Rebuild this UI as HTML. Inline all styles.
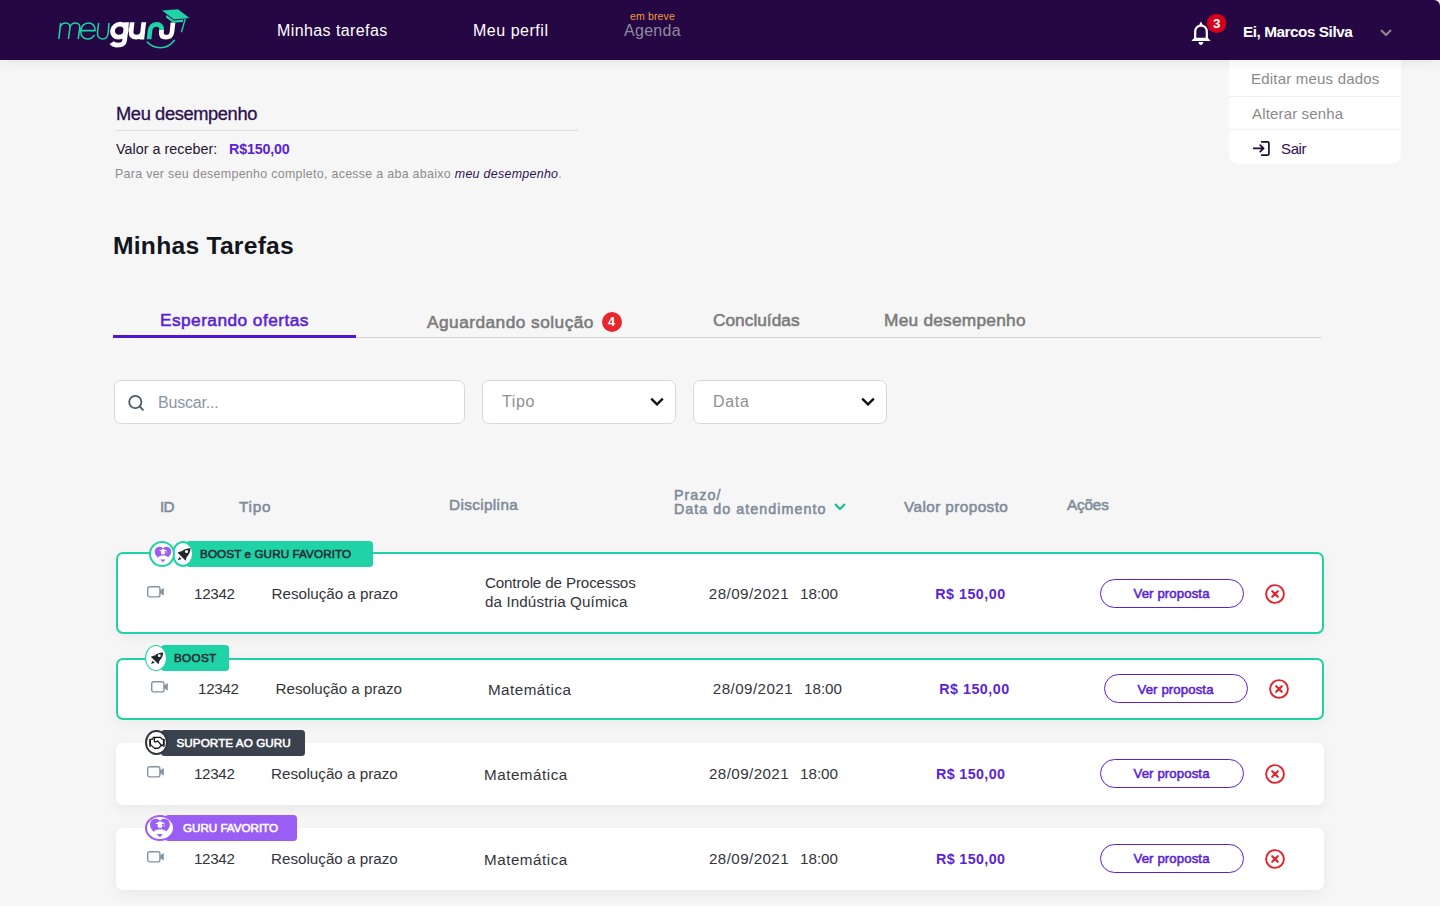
<!DOCTYPE html>
<html lang="pt-BR"><head><meta charset="utf-8"><title>Minhas Tarefas</title>
<style>
*{margin:0;padding:0;box-sizing:border-box}
html,body{width:1440px;height:906px;overflow:hidden}
body{background:#f6f6f6;font-family:"Liberation Sans",sans-serif;position:relative}
.a{position:absolute;white-space:nowrap;line-height:1}
.ic{position:absolute;overflow:visible}
.box{position:absolute}
.btn{position:absolute;width:144px;height:29px;border:1.5px solid #5b1fd8;border-radius:15px;background:#fff}
</style></head><body>

<div class="box" style="left:0;top:0;width:1440px;height:60px;background:#250744;border-top-right-radius:6px;box-shadow:0 3px 12px rgba(0,0,0,0.07);z-index:1"></div>
<svg class="ic" style="left:0;top:0;z-index:2" width="200" height="60" viewBox="0 0 200 60">
<g fill="none" stroke="#1fd3a6" stroke-width="1.55" stroke-linecap="round" stroke-linejoin="round">
<path d="M58.9 38.4L60.6 23.6"/>
<path d="M60.3 26.8C61.3 24.3 63.4 23 65.7 23C68.5 23 70.3 24.9 70 27.6L68.5 38.4"/>
<path d="M70.1 26.8C71.1 24.3 73.2 23 75.5 23C78.3 23 80.1 24.9 79.8 27.6L78.3 38.4"/>
<path d="M81 30.6L95.1 30.6C95.5 26.2 92.7 23 88.6 23C84.1 23 80.7 26.6 80.7 31.3C80.7 35.9 83.6 39 87.7 39C90.5 39 92.7 37.6 94.1 35.4"/>
<path d="M98.6 23.5L97.5 32C96.9 36.4 99.2 39 102.6 39C106 39 107.9 36.4 108.3 32L108.9 23.5"/>
</g>
<g transform="matrix(1 0 -0.11 1 4.29 0)">
<g fill="none" stroke="#ffffff" stroke-width="4.7">
<ellipse cx="118.5" cy="30.6" rx="6.9" ry="6.5"/>
<path d="M124.8 22.2L124.8 40.5C124.8 44 122.1 45.1 118.3 45.1C115.5 45.1 113.3 44.3 112.1 42.7"/>
<path d="M130.3 22.2L130.3 31.6C130.3 35.3 132.6 37.2 136.1 37.2C139.6 37.2 141.9 35.3 141.9 31.6M141.9 22.2L141.9 39.4"/>
<path d="M160.6 29.2L160.6 32C160.6 35.5 162.5 37.2 165.9 37.2C169.3 37.2 171.2 35.5 171.2 32L171.2 22.5"/>
</g>
<path d="M149.1 39.2L149.1 30.6C149.1 26.6 151.6 24.4 154.9 24.4C158.2 24.4 160.6 26.6 160.6 30L160.6 29.2" fill="none" stroke="#1fd3a6" stroke-width="4.7"/>
</g>
<path d="M147.2 42C151 46.2 155.3 47.7 160.3 47.7C165.8 47.7 170.8 45.3 174.4 40.3" fill="none" stroke="#1fd3a6" stroke-width="1.5" stroke-linecap="round"/>
<path d="M162 10.4L178 9.2L189.5 17.9L174.1 19.5Z" fill="#1fd3a6"/>
<path d="M166.5 15L165.9 17.5L173.2 22.8L182.9 22L183.1 19.4L173.9 20.4Z" fill="#1fd3a6"/>
<path d="M185.3 18.6L181.4 32.2" stroke="#1fd3a6" stroke-width="1.4" fill="none"/>
</svg>
<svg class="ic" style="left:1180px;top:0;z-index:2" width="60" height="60" viewBox="1180 0 60 60">
<path d="M1195.2 39.5L1195.2 31.5C1195.2 27.9 1197.7 25.6 1201 25.6C1204.3 25.6 1206.8 27.9 1206.8 31.5L1206.8 39.5" fill="none" stroke="#fff" stroke-width="2.2"/>
<path d="M1191.4 40.9L1194.2 37.8L1207.8 37.8L1210.6 40.9Z" fill="#fff"/>
<path d="M1199 25.6L1200.3 22.3Q1200.9 21.5 1201.5 22.3L1202.8 25.6Z" fill="#fff"/>
<path d="M1198.5 42L1203.3 42C1203.3 43.7 1202.2 44.9 1200.9 44.9C1199.6 44.9 1198.5 43.7 1198.5 42Z" fill="#fff"/>
<circle cx="1216.6" cy="23.4" r="9.7" fill="#d5001b"/>
<path d="M1386 0" />
</svg>
<div class="a" style="left:1212.9px;top:17.2px;font-size:13.4px;font-weight:700;color:#fff;z-index:3">3</div>
<svg class="ic" style="left:1376px;top:25px;z-index:2" width="20" height="14" viewBox="0 0 20 14"><path d="M5 5L10 10L15 5" fill="none" stroke="#8d8d8d" stroke-width="2"/></svg>
<div class="box" style="left:1229px;top:60px;width:172px;height:104px;background:#fff;border-radius:0 0 9px 9px;z-index:0"></div>
<div class="box" style="left:1229px;top:96px;width:172px;height:1px;background:#efefef"></div>
<div class="box" style="left:1229px;top:129px;width:172px;height:1px;background:#efefef"></div>
<svg class="ic" style="left:1250px;top:139px" width="24" height="20" viewBox="1250 139 24 20"><path d="M1253.7 148.4L1263.6 148.4M1260.2 145.1L1263.6 148.4L1260.2 151.7" fill="none" stroke="#1c0e33" stroke-width="1.7" stroke-linecap="round" stroke-linejoin="round"/><path d="M1261.7 141.9L1267.7 141.9Q1268.9 141.9 1268.9 143.1L1268.9 153.9Q1268.9 155.1 1267.7 155.1L1261.7 155.1" fill="none" stroke="#1c0e33" stroke-width="1.7" stroke-linecap="round"/></svg>
<div class="box" style="left:115px;top:130px;width:463px;height:1px;background:#dcdcdc"></div>
<div class="box" style="left:113px;top:337px;width:1208px;height:1.3px;background:#d3d3d3"></div>
<div class="box" style="left:113px;top:335px;width:243px;height:3px;background:#4f15d6"></div>
<div class="box" style="left:602px;top:312px;width:20px;height:20px;border-radius:10px;background:#e8262e"></div>
<div class="a" style="left:607.9px;top:315.9px;font-size:12.6px;font-weight:700;color:#fff">4</div>
<div class="box" style="left:114px;top:380px;width:351px;height:44px;background:#fff;border:1px solid #d3d9e0;border-radius:7px"></div>
<div class="box" style="left:482px;top:380px;width:194px;height:44px;background:#fff;border:1px solid #d3d9e0;border-radius:7px"></div>
<div class="box" style="left:693px;top:380px;width:194px;height:44px;background:#fff;border:1px solid #d3d9e0;border-radius:7px"></div>
<svg class="ic" style="left:124px;top:390px" width="24" height="24" viewBox="124 390 24 24"><circle cx="135.3" cy="402" r="6.1" fill="none" stroke="#4b5b69" stroke-width="1.8"/><path d="M139.8 406.5L143 409.8" stroke="#4b5b69" stroke-width="1.8" stroke-linecap="round"/></svg>
<svg class="ic" style="left:649px;top:394px" width="16" height="16" viewBox="0 0 16 16"><path d="M2.2 4.6L8 10.4L13.8 4.6" fill="none" stroke="#111" stroke-width="2.3"/></svg>
<svg class="ic" style="left:860px;top:394px" width="16" height="16" viewBox="0 0 16 16"><path d="M2.2 4.6L8 10.4L13.8 4.6" fill="none" stroke="#111" stroke-width="2.3"/></svg>
<svg class="ic" style="left:832px;top:500px" width="16" height="14" viewBox="0 0 16 14"><path d="M3 4L8 9L13 4" fill="none" stroke="#1cb98f" stroke-width="2.2"/></svg>
<div class="box" style="left:116px;top:552px;width:1208px;height:82px;background:#fff;border:2px solid #1fd3a6;border-radius:7px;box-shadow:0 4px 14px rgba(0,0,0,0.05)"></div>
<svg class="ic" style="left:146.8px;top:585.7px" width="18" height="13" viewBox="0 0 18 13"><rect x="0.7" y="0.7" width="12.2" height="10.2" rx="2" fill="none" stroke="#8393a1" stroke-width="1.4"/><path d="M13 4.5L16.8 2V9.6L13 7.2Z" fill="#8393a1"/></svg>
<div class="btn" style="left:1100px;top:579.3px"></div>
<svg class="ic" style="left:1264px;top:582.6999999999999px" width="22" height="22" viewBox="0 0 22 22"><circle cx="11" cy="11" r="8.9" fill="none" stroke="#e3242d" stroke-width="1.9"/><path d="M8.2 8.2L13.8 13.8M13.8 8.2L8.2 13.8" stroke="#e3242d" stroke-width="2.1" stroke-linecap="round"/></svg>
<div class="box" style="left:116px;top:658px;width:1208px;height:62px;background:#fff;border:2px solid #1fd3a6;border-radius:7px;box-shadow:0 4px 14px rgba(0,0,0,0.05)"></div>
<svg class="ic" style="left:150.8px;top:680.7px" width="18" height="13" viewBox="0 0 18 13"><rect x="0.7" y="0.7" width="12.2" height="10.2" rx="2" fill="none" stroke="#8393a1" stroke-width="1.4"/><path d="M13 4.5L16.8 2V9.6L13 7.2Z" fill="#8393a1"/></svg>
<div class="btn" style="left:1104px;top:674.3px"></div>
<svg class="ic" style="left:1268px;top:677.6999999999999px" width="22" height="22" viewBox="0 0 22 22"><circle cx="11" cy="11" r="8.9" fill="none" stroke="#e3242d" stroke-width="1.9"/><path d="M8.2 8.2L13.8 13.8M13.8 8.2L8.2 13.8" stroke="#e3242d" stroke-width="2.1" stroke-linecap="round"/></svg>
<div class="box" style="left:116px;top:743px;width:1208px;height:62px;background:#fff;border-radius:7px;box-shadow:0 4px 14px rgba(0,0,0,0.06)"></div>
<svg class="ic" style="left:146.8px;top:765.8px" width="18" height="13" viewBox="0 0 18 13"><rect x="0.7" y="0.7" width="12.2" height="10.2" rx="2" fill="none" stroke="#8393a1" stroke-width="1.4"/><path d="M13 4.5L16.8 2V9.6L13 7.2Z" fill="#8393a1"/></svg>
<div class="btn" style="left:1100px;top:759.4px"></div>
<svg class="ic" style="left:1264px;top:762.8px" width="22" height="22" viewBox="0 0 22 22"><circle cx="11" cy="11" r="8.9" fill="none" stroke="#e3242d" stroke-width="1.9"/><path d="M8.2 8.2L13.8 13.8M13.8 8.2L8.2 13.8" stroke="#e3242d" stroke-width="2.1" stroke-linecap="round"/></svg>
<div class="box" style="left:116px;top:828px;width:1208px;height:62px;background:#fff;border-radius:7px;box-shadow:0 4px 14px rgba(0,0,0,0.06)"></div>
<svg class="ic" style="left:146.8px;top:850.8px" width="18" height="13" viewBox="0 0 18 13"><rect x="0.7" y="0.7" width="12.2" height="10.2" rx="2" fill="none" stroke="#8393a1" stroke-width="1.4"/><path d="M13 4.5L16.8 2V9.6L13 7.2Z" fill="#8393a1"/></svg>
<div class="btn" style="left:1100px;top:844.4px"></div>
<svg class="ic" style="left:1264px;top:847.8px" width="22" height="22" viewBox="0 0 22 22"><circle cx="11" cy="11" r="8.9" fill="none" stroke="#e3242d" stroke-width="1.9"/><path d="M8.2 8.2L13.8 13.8M13.8 8.2L8.2 13.8" stroke="#e3242d" stroke-width="2.1" stroke-linecap="round"/></svg>
<div class="box" style="left:186px;top:541px;width:187px;height:26px;background:#1fd3a6;border-radius:3.5px"></div>
<div class="box" style="left:172px;top:541px;width:22.3px;height:26px;border-radius:50%;background:#fff;border:2px solid #1fd3a6"></div>
<div class="box" style="left:149px;top:541px;width:26px;height:26px;border-radius:13px;background:#fff;border:2px solid #1fd3a6"></div>
<svg class="ic" style="left:150.7px;top:539.8px" width="24" height="24" viewBox="-12 -12 24 24"><g transform="scale(0.874)"><path d="M-0.35 -4.3C-1.4 -5.5 -2.9 -6 -4.5 -5.9C-7.5 -5.7 -9.5 -3.3 -9.5 -0.3C-9.5 2.1 -7.9 4.6 -6 6.4C-4 4.8 -2 4.1 0 4.1C2 4.1 4 4.6 5.9 5.9C7.7 4.3 9.45 2.1 9.45 -0.3C9.45 -3.3 7.5 -5.7 4.5 -5.9C2.9 -6 1.4 -5.5 0.35 -4.3Z" fill="#9b5ef5"/><path d="M-4.5 -1.5L0 -3.5L4.6 -1.6L0 0Z" fill="#fff"/><ellipse cx="0" cy="0.8" rx="2.4" ry="2.1" fill="#fff"/><path d="M3.9 -1.6L4.2 1.4" stroke="#fff" stroke-width="0.7" opacity="0.7"/><path d="M-3.3 8.5L2.8 8.5L-0.1 11.7Z" fill="#9b5ef5"/></g></svg>
<svg class="ic" style="left:173px;top:543.8px" width="20" height="20" viewBox="-10 -10 20 20"><g transform="scale(1.0)"><path d="M-5.5 -1.4L-0.9 -2.9C1.5 -5 4.4 -5.9 7.4 -5.8C7.5 -2.8 6.4 0.3 3.7 3L2.6 6.7Z" fill="#23272b"/><circle cx="3.5" cy="-2.5" r="1.55" fill="#fff"/><path d="M-5.2 6.2L-3.7 3L-1.3 5.1Z" fill="#23272b"/></g></svg>
<div class="box" style="left:161px;top:645.4px;width:67.5px;height:25.2px;background:#1fd3a6;border-radius:3.5px"></div>
<div class="box" style="left:145px;top:645px;width:22px;height:26px;border-radius:50%;background:#fff;border:1.9px solid #1fd3a6"></div>
<svg class="ic" style="left:146px;top:648.2px" width="20" height="20" viewBox="-10 -10 20 20"><g transform="scale(0.95)"><path d="M-5.5 -1.4L-0.9 -2.9C1.5 -5 4.4 -5.9 7.4 -5.8C7.5 -2.8 6.4 0.3 3.7 3L2.6 6.7Z" fill="#23272b"/><circle cx="3.5" cy="-2.5" r="1.55" fill="#fff"/><path d="M-5.2 6.2L-3.7 3L-1.3 5.1Z" fill="#23272b"/></g></svg>
<div class="box" style="left:161px;top:730.2px;width:144px;height:25.6px;background:#3a424d;border-radius:3.5px"></div>
<div class="box" style="left:145px;top:730.2px;width:22.5px;height:25.3px;border-radius:50%;background:#fff;border:2px solid #2f363f"></div>
<svg class="ic" style="left:147px;top:734px" width="20" height="18" viewBox="0 0 20 18"><rect x="2.2" y="5" width="1.8" height="7.7" fill="#111"/><rect x="15.9" y="5" width="1.8" height="7.7" fill="#111"/><g fill="none" stroke="#111" stroke-width="1.25" stroke-linejoin="round" stroke-linecap="round"><path d="M4 5.2L5.6 5.2L6.4 3.3L13.5 3.3L15.1 5.1L15.9 5.2"/><path d="M8 3.9C7.2 5 7.1 6.8 7.6 7.5C8.4 8.4 9.8 7.8 10.7 6.8L14 10.8L15.9 11.3"/><path d="M4 11.1L7.3 14.1C7.8 14.6 8.6 14.4 9 14C9.4 14.4 10.2 14.4 10.6 14C11 14.2 12 14 12.5 13.6L13.5 11.9L15.9 11.3"/></g><circle cx="3.1" cy="11.6" r="0.45" fill="#fff"/><circle cx="16.8" cy="11.6" r="0.45" fill="#fff"/></svg>
<div class="box" style="left:165px;top:815px;width:132px;height:25.8px;background:#9b5ef5;border-radius:3.5px"></div>
<div class="box" style="left:145px;top:814.8px;width:30px;height:26px;border-radius:50%;background:#fff;border:2.3px solid #9b5ef5"></div>
<svg class="ic" style="left:148.3px;top:813.4px" width="24" height="24" viewBox="-12 -12 24 24"><g transform="scale(1.05)"><path d="M-0.35 -4.3C-1.4 -5.5 -2.9 -6 -4.5 -5.9C-7.5 -5.7 -9.5 -3.3 -9.5 -0.3C-9.5 2.1 -7.9 4.6 -6 6.4C-4 4.8 -2 4.1 0 4.1C2 4.1 4 4.6 5.9 5.9C7.7 4.3 9.45 2.1 9.45 -0.3C9.45 -3.3 7.5 -5.7 4.5 -5.9C2.9 -6 1.4 -5.5 0.35 -4.3Z" fill="#9b5ef5"/><path d="M-4.5 -1.5L0 -3.5L4.6 -1.6L0 0Z" fill="#fff"/><ellipse cx="0" cy="0.8" rx="2.4" ry="2.1" fill="#fff"/><path d="M3.9 -1.6L4.2 1.4" stroke="#fff" stroke-width="0.7" opacity="0.7"/><path d="M-3.3 8.5L2.8 8.5L-0.1 11.7Z" fill="#9b5ef5"/></g></svg>
<div class="a" style="left:277.00px;top:23.10px;font-size:16.00px;letter-spacing:0.408px;color:#ffffff;z-index:3;">Minhas tarefas</div>
<div class="a" style="left:473.00px;top:23.20px;font-size:16.00px;letter-spacing:0.522px;color:#ffffff;z-index:3;">Meu perfil</div>
<div class="a" style="left:630.00px;top:11.08px;font-size:10.50px;letter-spacing:0.157px;color:#f19a3e;z-index:3;">em breve</div>
<div class="a" style="left:624.00px;top:23.20px;font-size:16.00px;letter-spacing:0.280px;color:#8f8a9b;z-index:3;">Agenda</div>
<div class="a" style="left:1243.00px;top:23.99px;font-size:15.30px;letter-spacing:-0.447px;color:#ffffff;font-weight:700;z-index:3;">Ei, Marcos Silva</div>
<div class="a" style="left:1251.00px;top:71.05px;font-size:15.00px;letter-spacing:0.206px;color:#8a8a8a;">Editar meus dados</div>
<div class="a" style="left:1252.00px;top:106.25px;font-size:15.00px;letter-spacing:0.158px;color:#8a8a8a;">Alterar senha</div>
<div class="a" style="left:1281.00px;top:140.95px;font-size:15.00px;letter-spacing:-0.367px;color:#2b0f4f;">Sair</div>
<div class="a" style="left:116.00px;top:104.76px;font-size:18.29px;letter-spacing:-0.385px;color:#2a0f50;-webkit-text-stroke:0.3px currentColor;">Meu desempenho</div>
<div class="a" style="left:116.00px;top:141.86px;font-size:14.29px;letter-spacing:0.047px;color:#1f1530;">Valor a receber:</div>
<div class="a" style="left:229.00px;top:141.86px;font-size:14.29px;letter-spacing:-0.186px;color:#5b1fd8;font-weight:700;">R$150,00</div>
<div class="a" style="left:115.00px;top:168.14px;font-size:12.43px;letter-spacing:0.294px;color:#8c8c8c;">Para ver seu desempenho completo, acesse a aba abaixo <i style="color:#2e1255">meu desempenho</i>.</div>
<div class="a" style="left:113.00px;top:233.80px;font-size:24.64px;letter-spacing:0.254px;color:#12151c;font-weight:700;">Minhas Tarefas</div>
<div class="a" style="left:160.00px;top:312.30px;font-size:17.30px;letter-spacing:0.444px;color:#5b1fd8;-webkit-text-stroke:0.55px currentColor;">Esperando ofertas</div>
<div class="a" style="left:427.00px;top:314.30px;font-size:17.30px;letter-spacing:0.465px;color:#7b7b7b;-webkit-text-stroke:0.55px currentColor;">Aguardando solução</div>
<div class="a" style="left:713.00px;top:312.30px;font-size:17.30px;letter-spacing:0.011px;color:#7b7b7b;-webkit-text-stroke:0.55px currentColor;">Concluídas</div>
<div class="a" style="left:884.00px;top:312.30px;font-size:17.30px;letter-spacing:0.246px;color:#7b7b7b;-webkit-text-stroke:0.55px currentColor;">Meu desempenho</div>
<div class="a" style="left:158.00px;top:395.40px;font-size:16.00px;letter-spacing:-0.200px;color:#8a97a3;">Buscar...</div>
<div class="a" style="left:502.00px;top:394.40px;font-size:16.00px;letter-spacing:0.633px;color:#8f8f8f;">Tipo</div>
<div class="a" style="left:713.00px;top:394.20px;font-size:16.00px;letter-spacing:0.700px;color:#8f8f8f;">Data</div>
<div class="a" style="left:160.00px;top:499.20px;font-size:15.30px;letter-spacing:-0.700px;color:#7e8c9a;-webkit-text-stroke:0.55px currentColor;">ID</div>
<div class="a" style="left:239.00px;top:499.00px;font-size:15.30px;letter-spacing:0.733px;color:#7e8c9a;-webkit-text-stroke:0.55px currentColor;">Tipo</div>
<div class="a" style="left:449.00px;top:497.30px;font-size:15.30px;letter-spacing:0.367px;color:#7e8c9a;-webkit-text-stroke:0.55px currentColor;">Disciplina</div>
<div class="a" style="left:674.00px;top:487.64px;font-size:14.30px;letter-spacing:1.020px;color:#7e8c9a;-webkit-text-stroke:0.55px currentColor;">Prazo/</div>
<div class="a" style="left:674.00px;top:501.55px;font-size:14.30px;letter-spacing:1.039px;color:#7e8c9a;-webkit-text-stroke:0.55px currentColor;">Data do atendimento</div>
<div class="a" style="left:904.00px;top:499.00px;font-size:15.30px;letter-spacing:0.423px;color:#7e8c9a;-webkit-text-stroke:0.55px currentColor;">Valor proposto</div>
<div class="a" style="left:1067.00px;top:496.69px;font-size:15.30px;letter-spacing:-0.175px;color:#7e8c9a;-webkit-text-stroke:0.55px currentColor;">Ações</div>
<div class="a" style="left:194.00px;top:586.38px;font-size:15.20px;letter-spacing:-0.300px;color:#34343a;">12342</div>
<div class="a" style="left:271.50px;top:586.38px;font-size:15.20px;letter-spacing:-0.013px;color:#34343a;">Resolução a prazo</div>
<div class="a" style="left:484.90px;top:575.28px;font-size:15.20px;letter-spacing:-0.140px;color:#34343a;">Controle de Processos</div>
<div class="a" style="left:484.90px;top:593.78px;font-size:15.20px;letter-spacing:0.126px;color:#34343a;">da Indústria Química</div>
<div class="a" style="left:708.80px;top:585.68px;font-size:15.20px;letter-spacing:0.422px;color:#34343a;">28/09/2021</div>
<div class="a" style="left:800.00px;top:585.68px;font-size:15.20px;letter-spacing:0.000px;color:#34343a;">18:00</div>
<div class="a" style="left:935.20px;top:586.64px;font-size:14.30px;letter-spacing:0.500px;color:#5b1fd8;font-weight:700;">R$ 150,00</div>
<div class="a" style="left:1133.50px;top:587.08px;font-size:13.20px;letter-spacing:0.109px;color:#5b1fd8;-webkit-text-stroke:0.55px currentColor;">Ver proposta</div>
<div class="a" style="left:198.00px;top:680.58px;font-size:15.20px;letter-spacing:-0.300px;color:#34343a;">12342</div>
<div class="a" style="left:275.50px;top:680.58px;font-size:15.20px;letter-spacing:-0.013px;color:#34343a;">Resolução a prazo</div>
<div class="a" style="left:487.90px;top:682.48px;font-size:15.20px;letter-spacing:0.511px;color:#34343a;">Matemática</div>
<div class="a" style="left:712.80px;top:680.88px;font-size:15.20px;letter-spacing:0.422px;color:#34343a;">28/09/2021</div>
<div class="a" style="left:804.00px;top:680.88px;font-size:15.20px;letter-spacing:0.000px;color:#34343a;">18:00</div>
<div class="a" style="left:939.20px;top:681.85px;font-size:14.30px;letter-spacing:0.500px;color:#5b1fd8;font-weight:700;">R$ 150,00</div>
<div class="a" style="left:1137.50px;top:683.28px;font-size:13.20px;letter-spacing:0.109px;color:#5b1fd8;-webkit-text-stroke:0.55px currentColor;">Ver proposta</div>
<div class="a" style="left:194.00px;top:766.08px;font-size:15.20px;letter-spacing:-0.350px;color:#34343a;">12342</div>
<div class="a" style="left:271.00px;top:766.08px;font-size:15.20px;letter-spacing:0.006px;color:#34343a;">Resolução a prazo</div>
<div class="a" style="left:484.00px;top:766.98px;font-size:15.20px;letter-spacing:0.522px;color:#34343a;">Matemática</div>
<div class="a" style="left:709.00px;top:766.38px;font-size:15.20px;letter-spacing:0.400px;color:#34343a;">28/09/2021</div>
<div class="a" style="left:800.00px;top:766.38px;font-size:15.20px;letter-spacing:0.000px;color:#34343a;">18:00</div>
<div class="a" style="left:936.00px;top:767.35px;font-size:14.30px;letter-spacing:0.375px;color:#5b1fd8;font-weight:700;">R$ 150,00</div>
<div class="a" style="left:1133.50px;top:766.78px;font-size:13.20px;letter-spacing:0.109px;color:#5b1fd8;-webkit-text-stroke:0.55px currentColor;">Ver proposta</div>
<div class="a" style="left:194.00px;top:851.08px;font-size:15.20px;letter-spacing:-0.350px;color:#34343a;">12342</div>
<div class="a" style="left:271.00px;top:851.08px;font-size:15.20px;letter-spacing:0.006px;color:#34343a;">Resolução a prazo</div>
<div class="a" style="left:484.00px;top:851.98px;font-size:15.20px;letter-spacing:0.522px;color:#34343a;">Matemática</div>
<div class="a" style="left:709.00px;top:851.38px;font-size:15.20px;letter-spacing:0.400px;color:#34343a;">28/09/2021</div>
<div class="a" style="left:800.00px;top:851.38px;font-size:15.20px;letter-spacing:0.000px;color:#34343a;">18:00</div>
<div class="a" style="left:936.00px;top:852.35px;font-size:14.30px;letter-spacing:0.375px;color:#5b1fd8;font-weight:700;">R$ 150,00</div>
<div class="a" style="left:1133.50px;top:851.78px;font-size:13.20px;letter-spacing:0.109px;color:#5b1fd8;-webkit-text-stroke:0.55px currentColor;">Ver proposta</div>
<div class="a" style="left:200.00px;top:548.05px;font-size:11.70px;letter-spacing:0.090px;color:#262d34;-webkit-text-stroke:0.55px currentColor;">BOOST e GURU FAVORITO</div>
<div class="a" style="left:174.00px;top:652.25px;font-size:11.70px;letter-spacing:0.300px;color:#262d34;-webkit-text-stroke:0.55px currentColor;">BOOST</div>
<div class="a" style="left:176.50px;top:737.25px;font-size:11.70px;letter-spacing:0.057px;color:#ffffff;-webkit-text-stroke:0.55px currentColor;">SUPORTE AO GURU</div>
<div class="a" style="left:183.00px;top:822.15px;font-size:11.70px;letter-spacing:-0.050px;color:#ffffff;-webkit-text-stroke:0.55px currentColor;">GURU FAVORITO</div>
</body></html>
